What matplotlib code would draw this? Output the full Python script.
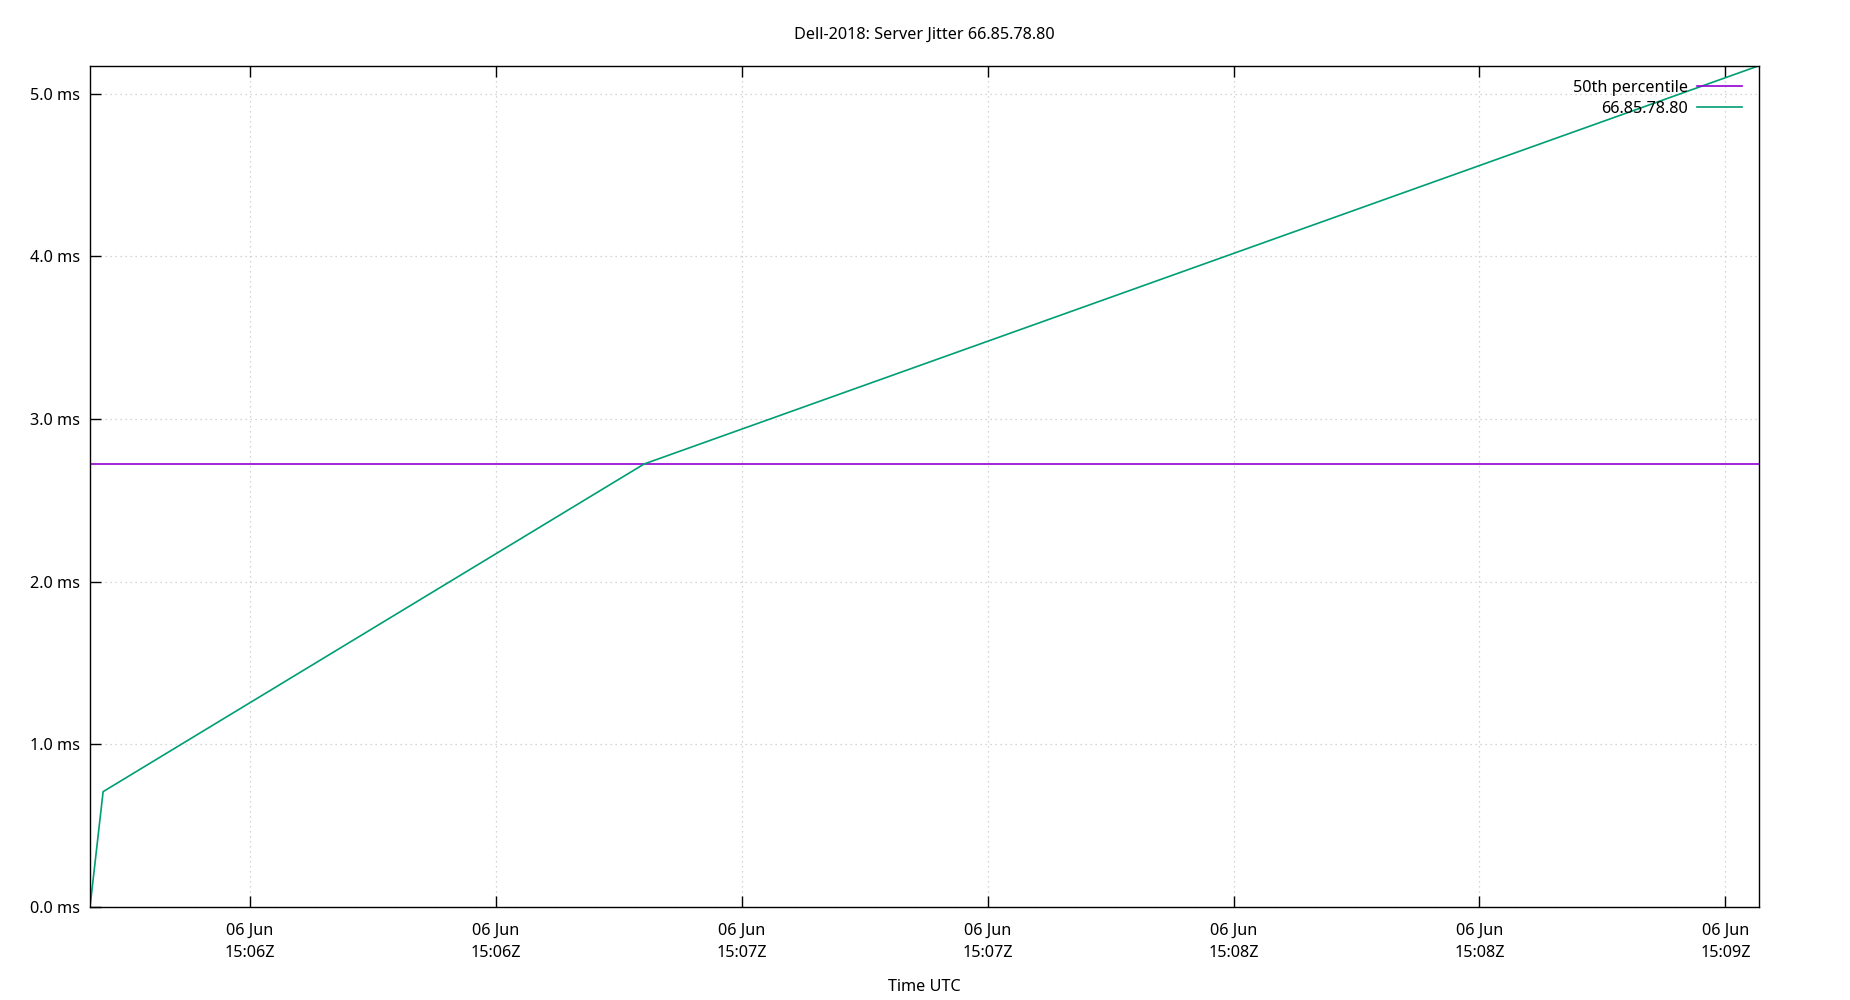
import matplotlib
matplotlib.use("Agg")
import matplotlib.pyplot as plt
import matplotlib.dates as mdates
import matplotlib.ticker as mticker
import pandas as pd

plt.rcParams['font.family'] = ['Noto Sans', 'DejaVu Sans']

# Data
times = pd.to_datetime([
    "2018-06-06 15:05:40.5",
    "2018-06-06 15:05:42.1",
    "2018-06-06 15:06:48.1",
    "2018-06-06 15:09:04.1",
])
jitter_ms = [0.0, 0.709, 2.723, 5.171]
median_ms = 2.723
title = "Dell-2018: Server Jitter 66.85.78.80"
series_label = "66.85.78.80"
median_label = "50th percentile"
x_label = "Time UTC"
y_ticks = [0.0, 1.0, 2.0, 3.0, 4.0, 5.0]

FS = 11.7

fig = plt.figure(figsize=(18.5, 10), dpi=100)
ax = fig.add_axes([90/1850, 1-907/1000, (1759-90)/1850, (907-65.7)/1000])

ax.axhline(median_ms, color='#9400d3', lw=1.2, label=median_label)
ax.plot(times, jitter_ms, color='#009e73', lw=1.2, label=series_label)

ax.set_xlim(times[0], times[-1])
ax.set_ylim(0, max(jitter_ms))

ax.xaxis.set_major_locator(mdates.SecondLocator(bysecond=[0, 30]))
ax.xaxis.set_major_formatter(mdates.DateFormatter("%d %b\n%H:%MZ"))
ax.yaxis.set_major_locator(mticker.FixedLocator(y_ticks))
ax.yaxis.set_major_formatter(mticker.FormatStrFormatter("%.1f ms"))

ax.tick_params(axis='x', direction='in', length=8, width=1, top=True, bottom=True,
               labelsize=FS, pad=11.5)
ax.tick_params(axis='y', direction='in', length=8, width=1, left=True, right=False,
               labelsize=FS, pad=7)
for lbl in ax.get_xticklabels():
    lbl.set_linespacing(1.52)

ax.grid(True, color='#c8c8c8', linestyle=(0, (1, 3)), lw=0.9)
for s in ax.spines.values():
    s.set_linewidth(1.0)
    s.set_color('black')

ax.set_title(title, fontsize=FS, pad=19)
ax.set_xlabel(x_label, fontsize=FS, labelpad=13)

leg = ax.legend(loc='upper right', frameon=False, markerfirst=False, fontsize=FS,
                handlelength=2.76, handletextpad=0.58, labelspacing=0.33,
                borderaxespad=0.0, borderpad=0.4, bbox_to_anchor=(0.9937, 0.991))

fig.savefig("out.png", dpi=100, facecolor='white')
